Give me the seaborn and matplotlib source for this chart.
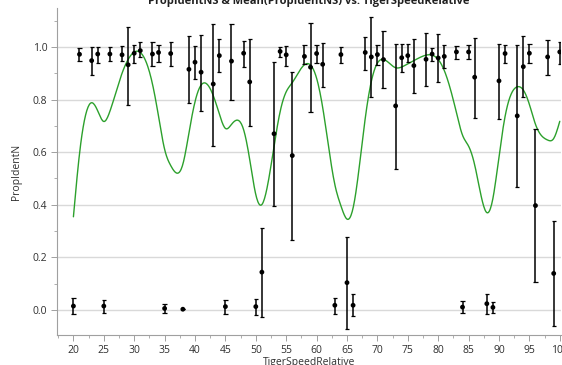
import numpy as np
import pandas as pd
import matplotlib
matplotlib.use("Agg")
import matplotlib.pyplot as plt
from matplotlib.ticker import MultipleLocator
import seaborn as sns

# Mean PropIdentNS per TigerSpeedRelative level, with interval bounds
speed = [20, 21, 23, 24, 25, 26, 28, 29, 30, 31, 33, 34, 35, 36, 38, 39, 40, 41,
         43, 44, 45, 46, 48, 49, 50, 51, 53, 54, 55, 56, 58, 59, 60, 61, 63, 64,
         65, 66, 68, 69, 70, 71, 73, 74, 75, 76, 78, 79, 80, 81, 83, 84, 85, 86,
         88, 89, 90, 91, 93, 94, 95, 96, 98, 99, 100]
mean = [0.015, 0.972, 0.948, 0.973, 0.015, 0.973, 0.970, 0.932, 0.976, 0.986,
        0.973, 0.979, 0.006, 0.975, 0.003, 0.915, 0.942, 0.904, 0.859, 0.967,
        0.013, 0.946, 0.976, 0.867, 0.013, 0.144, 0.670, 0.983, 0.970, 0.587,
        0.964, 0.923, 0.975, 0.934, 0.018, 0.971, 0.104, 0.018, 0.979, 0.962,
        0.971, 0.952, 0.776, 0.959, 0.967, 0.929, 0.953, 0.973, 0.958, 0.964,
        0.981, 0.011, 0.981, 0.885, 0.024, 0.010, 0.871, 0.975, 0.738, 0.925,
        0.976, 0.397, 0.962, 0.139, 0.981]
upper = [0.044, 0.997, 1.000, 1.001, 0.038, 0.999, 1.005, 1.077, 1.008, 1.019,
         1.018, 1.006, 0.022, 1.017, 0.003, 1.040, 1.003, 1.047, 1.087, 1.029,
         0.038, 1.087, 1.024, 1.030, 0.043, 0.313, 0.944, 1.000, 1.005, 0.903,
         1.008, 1.092, 1.006, 1.015, 0.047, 1.001, 0.276, 0.060, 1.039, 1.113,
         1.006, 1.060, 1.013, 1.013, 1.010, 1.029, 1.053, 0.996, 1.049, 1.006,
         1.003, 0.035, 1.006, 1.034, 0.062, 0.029, 1.013, 1.008, 1.006, 1.042,
         1.013, 0.687, 1.028, 0.337, 1.017]
lower = [-0.015, 0.947, 0.894, 0.940, -0.010, 0.947, 0.948, 0.780, 0.940, 0.960,
         0.928, 0.943, -0.011, 0.929, 0.003, 0.786, 0.878, 0.758, 0.625, 0.904,
         -0.016, 0.798, 0.923, 0.700, -0.020, -0.028, 0.397, 0.961, 0.929, 0.266,
         0.935, 0.752, 0.938, 0.848, -0.016, 0.938, -0.072, -0.023, 0.911, 0.809,
         0.932, 0.843, 0.536, 0.905, 0.943, 0.824, 0.853, 0.946, 0.866, 0.920,
         0.954, -0.013, 0.954, 0.729, -0.016, -0.010, 0.725, 0.938, 0.469, 0.809,
         0.938, 0.106, 0.894, -0.061, 0.935]

df = pd.DataFrame({"TigerSpeedRelative": speed, "PropIdentNS": mean,
                   "upper": upper, "lower": lower})


def smoothing_spline(x, y, lam, grid):
    """Cubic smoothing spline (Reinsch form) evaluated on grid."""
    x = np.asarray(x, float)
    y = np.asarray(y, float)
    n = len(x)
    h = np.diff(x)
    Q = np.zeros((n, n - 2))
    R = np.zeros((n - 2, n - 2))
    for j in range(1, n - 1):
        c = j - 1
        Q[j - 1, c] = 1.0 / h[j - 1]
        Q[j, c] = -1.0 / h[j - 1] - 1.0 / h[j]
        Q[j + 1, c] = 1.0 / h[j]
        R[c, c] = (h[j - 1] + h[j]) / 3.0
        if c + 1 < n - 2:
            R[c, c + 1] = R[c + 1, c] = h[j] / 6.0
    gamma_in = np.linalg.solve(R + lam * Q.T @ Q, Q.T @ y)
    g = y - lam * Q @ gamma_in
    gamma = np.concatenate([[0.0], gamma_in, [0.0]])
    idx = np.clip(np.searchsorted(x, grid) - 1, 0, n - 2)
    xi, xj = x[idx], x[idx + 1]
    hi = xj - xi
    a = grid - xi
    b = xj - grid
    return ((a * g[idx + 1] + b * g[idx]) / hi
            - a * b / 6.0 * ((1 + a / hi) * gamma[idx + 1] + (1 + b / hi) * gamma[idx]))


xs = np.linspace(min(speed), max(speed), 800)
smooth = pd.DataFrame({"TigerSpeedRelative": xs,
                       "fit": smoothing_spline(speed, mean, 3.0, xs)})

sns.set_theme(style="white")
plt.rcParams["font.family"] = ["Open Sans", "DejaVu Sans"]

fig = plt.figure(figsize=(5.62, 3.65), dpi=100)
ax = fig.add_axes([57 / 562, 1 - 335 / 365, 504 / 562, 327 / 365])

ax.yaxis.grid(True, color="#d9d9d9", linewidth=1.0)
ax.set_axisbelow(True)

sns.lineplot(data=smooth, x="TigerSpeedRelative", y="fit", ax=ax,
             color="#2ca02c", linewidth=1.0, zorder=2)

ax.vlines(df["TigerSpeedRelative"], df["lower"], df["upper"],
          color="black", linewidth=1.1, zorder=3)
ax.hlines(df["upper"], df["TigerSpeedRelative"] - 0.35, df["TigerSpeedRelative"] + 0.35,
          color="black", linewidth=0.9, zorder=3)
ax.hlines(df["lower"], df["TigerSpeedRelative"] - 0.35, df["TigerSpeedRelative"] + 0.35,
          color="black", linewidth=0.9, zorder=3)
sns.scatterplot(data=df, x="TigerSpeedRelative", y="PropIdentNS", ax=ax,
                color="black", s=12, edgecolor="none", zorder=4)

ax.set_xlim(17.3, 100.2)
ax.set_ylim(-0.095, 1.148)
ax.xaxis.set_major_locator(MultipleLocator(5))
ax.xaxis.set_minor_locator(MultipleLocator(2.5))
ax.yaxis.set_major_locator(MultipleLocator(0.2))
ax.yaxis.set_minor_locator(MultipleLocator(0.1))
ax.yaxis.set_major_formatter(matplotlib.ticker.FormatStrFormatter("%.1f"))

for side in ("top", "right"):
    ax.spines[side].set_visible(False)
for side in ("left", "bottom"):
    ax.spines[side].set_color("#a0a0a0")
    ax.spines[side].set_linewidth(0.8)

ax.tick_params(axis="both", which="major", direction="out", length=4, width=0.7,
               color="#a0a0a0", labelsize=7.5, labelcolor="#303030", pad=3,
               bottom=True, left=True)
ax.tick_params(axis="both", which="minor", direction="out", length=2, width=0.6,
               color="#a0a0a0", bottom=True, left=True)

ax.set_xlabel("TigerSpeedRelative", fontsize=7.5, color="#303030", labelpad=1)
ax.set_ylabel("PropIdentN", fontsize=7.5, color="#303030", labelpad=8)

fig.text((57 + 561) / 2 / 562, 1 - 4 / 365,
         "PropIdentNS & Mean(PropIdentNS) vs. TigerSpeedRelative",
         ha="center", va="baseline", fontsize=8, fontweight="bold", color="#202020")

fig.savefig("out.png", dpi=100)
